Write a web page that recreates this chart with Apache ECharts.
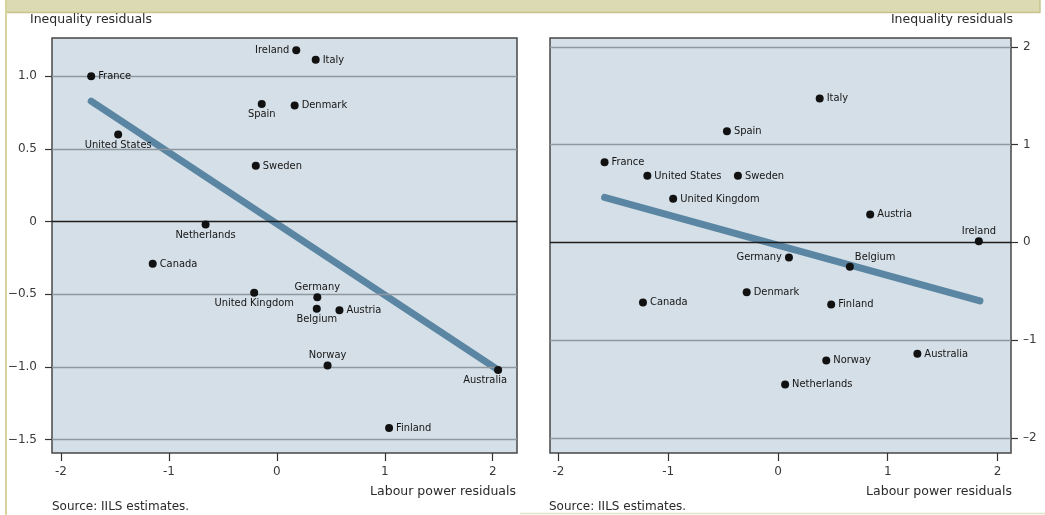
<!DOCTYPE html>
<html><head><meta charset="utf-8">
<script src="https://cdn.jsdelivr.net/npm/echarts@6/dist/echarts.min.js"></script>
<style>html,body{margin:0;padding:0;background:#fff}#c{width:1045px;height:515px}</style>
</head><body><div id="c"></div>
<script>
// ---- data ----
const leftCountries = ['France','United States','Ireland','Italy','Spain','Denmark','Sweden','Netherlands','Canada','United Kingdom','Germany','Belgium','Austria','Norway','Australia','Finland'];
const leftLabour = [-1.72,-1.47,0.18,0.36,-0.14,0.165,-0.195,-0.66,-1.15,-0.21,0.375,0.37,0.58,0.47,2.05,1.04];
const leftInequality = [1.00,0.60,1.18,1.115,0.81,0.80,0.385,-0.02,-0.29,-0.49,-0.52,-0.60,-0.61,-0.99,-1.02,-1.42];
const leftFitX = [-1.72, 2.05];
const leftFitY = [0.83, -1.02];

const rightCountries = ['Italy','Spain','France','United States','Sweden','United Kingdom','Austria','Ireland','Germany','Belgium','Denmark','Canada','Finland','Australia','Norway','Netherlands'];
const rightLabour = [0.38,-0.465,-1.58,-1.19,-0.365,-0.955,0.84,1.83,0.10,0.655,-0.285,-1.23,0.485,1.27,0.44,0.065];
const rightInequality = [1.47,1.135,0.82,0.68,0.68,0.445,0.285,0.01,-0.155,-0.25,-0.51,-0.615,-0.635,-1.14,-1.21,-1.455];
const rightFitX = [-1.58, 1.84];
const rightFitY = [0.46, -0.60];

const xTicks = [-2,-1,0,1,2];
const leftYTicks = [-1.5,-1,-0.5,0,0.5,1];
const rightYTicks = [-2,-1,0,1,2];

const yTitle = 'Inequality residuals';
const xTitle = 'Labour power residuals';
const sourceText = 'Source: IILS estimates.';

// ---- styles ----
const leftPlacement = {'France':['right'],'United States':['bottom'],'Ireland':['left'],'Italy':['right'],'Spain':['bottom'],'Denmark':['right'],'Sweden':['right'],'Netherlands':['bottom'],'Canada':['right'],'United Kingdom':['bottom'],'Germany':['top'],'Belgium':['bottom'],'Austria':['right'],'Norway':['top'],'Australia':['bottom',[-13,0]],'Finland':['right']};
const rightPlacement = {'Ireland':['top'],'Germany':['left'],'Belgium':['right',[-2,-10]]};

const LBL_FONT = '"DejaVu Sans Condensed", "DejaVu Sans", sans-serif';
const AX_FONT = '"DejaVu Sans", sans-serif';

function pts(names, xs, ys, placement){
  return names.map((n,i)=>{
    const p = placement[n] || ['right'];
    const pos = p[0];
    return {
      value:[xs[i], ys[i]], name:n,
      label:{show:true, position:pos, distance:(pos==='top'||pos==='bottom')?1:3, offset:p[1]||[0,0]}
    };
  });
}
function gridLines(ticks){
  return ticks.map(v=>({yAxis:v, lineStyle:{color: v===0?'#1e1e1e':'#8f989f', width: v===0?1.4:1.3, type:'solid'}}));
}
const fmtLeftY = v => v===0 ? '0' : (v<0?'\u2212':'') + Math.abs(v).toFixed(1);
const fmtRightY = v => v===0 ? '0' : (v<0?'\u2013':'') + Math.abs(v);
const fmtX = v => String(v);

function xAxis(idx, min, max){
  return {type:'value', gridIndex:idx, min, max,
    axisLine:{show:false, onZero:false}, splitLine:{show:false},
    axisTick:{show:true, customValues:xTicks, length:8, lineStyle:{color:'#333', width:1.2}},
    axisLabel:{customValues:xTicks, formatter:fmtX, margin:13, color:'#3a3a3a', fontSize:12, fontFamily:AX_FONT}};
}
function yAxis(idx, min, max, ticks, pos, fmt, margin){
  return {type:'value', gridIndex:idx, min, max, position:pos,
    axisLine:{show:false, onZero:false}, splitLine:{show:false},
    axisTick:{show:true, customValues:ticks, length:7, lineStyle:{color:'#333', width:1.2}},
    axisLabel:{customValues:ticks, formatter:fmt, margin:margin, color:'#3a3a3a', fontSize:12, fontFamily:AX_FONT}};
}
const scatterStyle = {symbol:'circle', symbolSize:8, itemStyle:{color:'#111', opacity:1},
  label:{color:'#151515', fontSize:11, fontFamily:LBL_FONT, formatter:p=>p.name}, z:5};
const fitStyle = {symbol:'none', lineStyle:{color:'#5a86a3', width:7, cap:'round', opacity:1}, z:3, silent:true};

const chart = echarts.init(document.getElementById('c'), null, {renderer:'canvas'});
chart.setOption({
  animation:false,
  backgroundColor:'#ffffff',
  grid:[
    {left:52, top:38, width:465, height:415, show:true, backgroundColor:'#d5dfe7', borderColor:'#474747', borderWidth:1.5},
    {left:550, top:38, width:461, height:415, show:true, backgroundColor:'#d5dfe7', borderColor:'#474747', borderWidth:1.5}
  ],
  xAxis:[ xAxis(0, -2.083, 2.225), xAxis(1, -2.077, 2.123) ],
  yAxis:[ yAxis(0, -1.592, 1.264, leftYTicks, 'left', fmtLeftY, 15), yAxis(1, -2.155, 2.09, rightYTicks, 'right', fmtRightY, 12) ],
  series:[
    {type:'line', xAxisIndex:0, yAxisIndex:0, data:[], z:1, silent:true,
      markLine:{silent:true, symbol:'none', label:{show:false}, animation:false, data:gridLines(leftYTicks)}},
    {type:'line', xAxisIndex:1, yAxisIndex:1, data:[], z:1, silent:true,
      markLine:{silent:true, symbol:'none', label:{show:false}, animation:false, data:gridLines(rightYTicks)}},
    Object.assign({type:'line', xAxisIndex:0, yAxisIndex:0, data:leftFitX.map((x,i)=>[x,leftFitY[i]])}, fitStyle),
    Object.assign({type:'line', xAxisIndex:1, yAxisIndex:1, data:rightFitX.map((x,i)=>[x,rightFitY[i]])}, fitStyle),
    Object.assign({type:'scatter', xAxisIndex:0, yAxisIndex:0, data:pts(leftCountries,leftLabour,leftInequality,leftPlacement)}, scatterStyle),
    Object.assign({type:'scatter', xAxisIndex:1, yAxisIndex:1, data:pts(rightCountries,rightLabour,rightInequality,rightPlacement)}, scatterStyle)
  ],
  graphic:[
    {type:'rect', shape:{x:6, y:0, width:1034, height:12}, style:{fill:'#dcdab3'}, z:0},
    {type:'line', shape:{x1:6, y1:12.5, x2:1040, y2:12.5}, style:{stroke:'#c8c48c', lineWidth:1.5}},
    {type:'line', shape:{x1:6, y1:0, x2:6, y2:515}, style:{stroke:'#d8d39a', lineWidth:2}},
    {type:'line', shape:{x1:1040, y1:0, x2:1040, y2:13}, style:{stroke:'#c8c48c', lineWidth:1.5}},
    {type:'line', shape:{x1:520, y1:513.5, x2:1045, y2:513.5}, style:{stroke:'#dde5c6', lineWidth:1.5}},
    {type:'text', left:30, top:13, style:{text:yTitle, fontSize:12.5, fontFamily:AX_FONT, fill:'#2a2a2a'}},
    {type:'text', right:32, top:13, style:{text:yTitle, fontSize:12.5, fontFamily:AX_FONT, fill:'#2a2a2a'}},
    {type:'text', right:529, top:485, style:{text:xTitle, fontSize:12.5, fontFamily:AX_FONT, fill:'#2a2a2a'}},
    {type:'text', right:33, top:485, style:{text:xTitle, fontSize:12.5, fontFamily:AX_FONT, fill:'#2a2a2a'}},
    {type:'text', left:52, top:501, style:{text:sourceText, fontSize:12, fontFamily:AX_FONT, fill:'#2a2a2a'}},
    {type:'text', left:549, top:501, style:{text:sourceText, fontSize:12, fontFamily:AX_FONT, fill:'#2a2a2a'}}
  ]
});
</script></body></html>
